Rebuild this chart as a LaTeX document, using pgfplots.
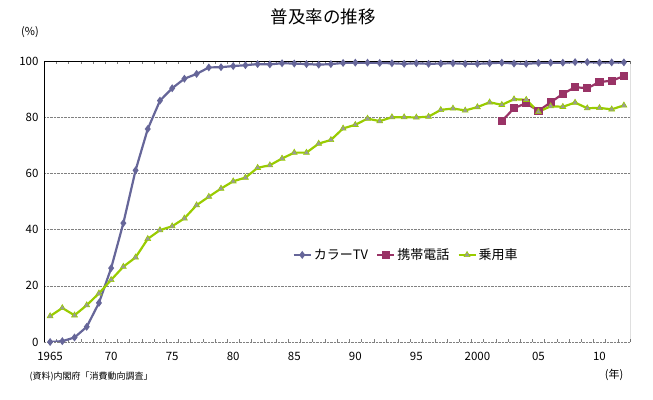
\documentclass[border=0pt]{standalone}
\usepackage{fontspec}
\setmainfont{Noto Sans CJK JP}
\usepackage{pgfplots}
\pgfplotsset{compat=1.18}
\definecolor{tvcol}{HTML}{666699}
\definecolor{mobcol}{HTML}{993366}
\definecolor{carcol}{HTML}{99CC00}
\definecolor{trifill}{HTML}{999999}
\begin{document}
\begin{tikzpicture}[x=1pt,y=1pt]
\useasboundingbox (0,0) rectangle (653,399);
\begin{axis}[
  at={(44pt,57pt)}, anchor=south west,
  scale only axis, width=586pt, height=281pt,
  xmin=1964.5, xmax=2012.5, ymin=0, ymax=100,
  axis line style={draw=none},
  xtick={1965,1970,1975,1980,1985,1990,1995,2000,2005,2010},
  xticklabels={1965,70,75,80,85,90,95,2000,05,10},
  minor xtick={1964.5,1965.5,...,2012.5},
  ytick={0,20,40,60,80,100},
  major tick length=0pt, minor tick length=3pt, tick align=inside,
  minor tick style={gray},
  ymajorgrids, major grid style={gray, densely dotted},
  /pgf/number format/assume math mode=true,
  ticklabel style={font=\fontsize{11.5}{13}\selectfont},
  xticklabel style={yshift=-7pt},
  yticklabel style={xshift=-2pt},
  legend style={at={(rel axis cs:0.618,0.31)}, anchor=center, draw=none, fill=none,
    font=\fontsize{13}{15}\selectfont, legend columns=3,
    /tikz/every even column/.append style={column sep=6pt}},
]
\addplot[tvcol, line width=2.2pt, mark=diamond*, mark size=2.2pt, mark options={solid, fill=tvcol}] coordinates {
(1965,0) (1966,0.3) (1967,1.6) (1968,5.4) (1969,13.9) (1970,26.3) (1971,42.3) (1972,61.1) (1973,75.8) (1974,85.9)
(1975,90.3) (1976,93.7) (1977,95.4) (1978,97.7) (1979,97.8) (1980,98.2) (1981,98.5) (1982,98.9) (1983,98.8) (1984,99.2)
(1985,99.1) (1986,98.9) (1987,98.7) (1988,98.9) (1989,99.3) (1990,99.4) (1991,99.4) (1992,99.3) (1993,99.2) (1994,99.0)
(1995,99.2) (1996,99.0) (1997,99.1) (1998,99.2) (1999,99.0) (2000,99.0) (2001,99.2) (2002,99.4) (2003,99.1) (2004,99.0)
(2005,99.3) (2006,99.4) (2007,99.4) (2008,99.6) (2009,99.6) (2010,99.4) (2011,99.5) (2012,99.5)};
\addlegendentry{カラーTV}
\addplot[mobcol, line width=2.2pt, mark=square*, mark size=3pt, mark options={solid, fill=mobcol}] coordinates {
(2002,78.6) (2003,83.2) (2004,85.0) (2005,82.2) (2006,85.3) (2007,88.3) (2008,90.7) (2009,90.3) (2010,92.5) (2011,93.0) (2012,94.6)};
\addlegendentry{携帯電話}
\addplot[carcol, line width=2.2pt, mark=triangle*, mark size=3.4pt, mark options={solid, fill=trifill, draw=carcol, line width=0.6pt}] coordinates {
(1965,9.2) (1966,12.1) (1967,9.5) (1968,13.1) (1969,17.3) (1970,22.1) (1971,26.8) (1972,30.1) (1973,36.7) (1974,39.8)
(1975,41.2) (1976,44.0) (1977,48.7) (1978,51.7) (1979,54.6) (1980,57.2) (1981,58.5) (1982,62.0) (1983,62.9) (1984,65.3)
(1985,67.4) (1986,67.4) (1987,70.6) (1988,71.9) (1989,76.0) (1990,77.3) (1991,79.5) (1992,78.6) (1993,80.0) (1994,80.0)
(1995,79.9) (1996,80.2) (1997,82.6) (1998,83.1) (1999,82.4) (2000,83.6) (2001,85.3) (2002,84.4) (2003,86.4) (2004,86.2)
(2005,81.9) (2006,83.9) (2007,83.7) (2008,85.2) (2009,83.2) (2010,83.3) (2011,82.8) (2012,84.2)};
\addlegendentry{乗用車}
\draw[black, line width=0.8pt] (rel axis cs:0,0) -- (rel axis cs:0,1) -- (rel axis cs:1,1) -- (rel axis cs:1,0);
\draw[gray, densely dotted, line width=0.8pt] (rel axis cs:0,0) -- (rel axis cs:1,0);
\end{axis}
\node[font=\fontsize{17.5}{19}\selectfont] at (323,382) {普及率の推移};
\node[font=\fontsize{11}{13}\selectfont] at (30,367) {(\%)};
\node[font=\fontsize{11}{13}\selectfont] at (614,24) {(年)};
\node[font=\fontsize{9}{11}\selectfont, anchor=west] at (26,22) {(資料)内閣府「消費動向調査」};
\end{tikzpicture}
\end{document}
